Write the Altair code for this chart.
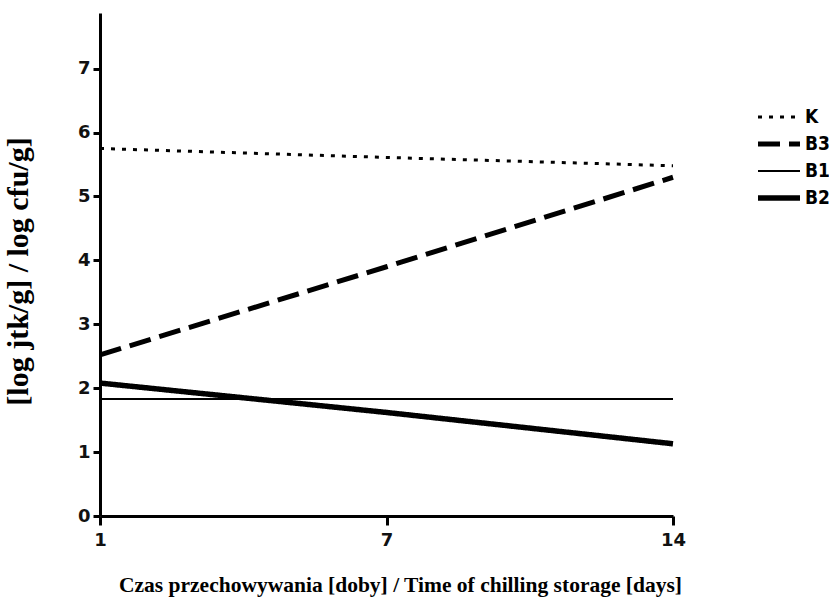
import altair as alt
import pandas as pd

days = ["1", "7", "14"]
series = ["K", "B3", "B1", "B2"]
k_vals = [5.75, 5.61, 5.48]
b3_vals = [2.52, 3.90, 5.30]
b1_vals = [1.83, 1.83, 1.83]
b2_vals = [2.08, 1.62, 1.13]
y_ticks = [0, 1, 2, 3, 4, 5, 6, 7]

rows = []
for name, vals in zip(series, [k_vals, b3_vals, b1_vals, b2_vals]):
    for d, v in zip(days, vals):
        rows.append({"day": d, "series": name, "value": v})
df = pd.DataFrame(rows)

dash_range = [[4, 7], [22, 9], [1, 0], [1, 0]]
width_range = [3, 5, 2, 5.5]

chart = alt.Chart(df).mark_line(color="black", strokeCap="butt").encode(
    x=alt.X("day:O", sort=days,
            scale=alt.Scale(type="point", padding=0),
            axis=alt.Axis(title="Czas przechowywania [doby] / Time of chilling storage [days]",
                          labelAngle=0, titleX=300, titleY=75, titleBaseline="alphabetic",
                          titleFontSize=21.5)),
    y=alt.Y("value:Q", scale=alt.Scale(domain=[0, 7.87], nice=False, zero=True),
            axis=alt.Axis(title="[log jtk/g] / log cfu/g]", values=y_ticks,
                          titleX=-82, titleY=258, titleAngle=-90, titleBaseline="middle",
                          titleFontSize=30)),
    strokeDash=alt.StrokeDash("series:N", sort=series,
                              scale=alt.Scale(domain=series, range=dash_range),
                              legend=alt.Legend(title=None)),
    strokeWidth=alt.StrokeWidth("series:N", sort=series,
                                scale=alt.Scale(type="ordinal", domain=series, range=width_range),
                                legend=alt.Legend(title=None)),
).properties(
    width=573, height=503,
    autosize=alt.AutoSizeParams(type="none"),
    padding={"left": 100, "top": 13, "right": 156, "bottom": 93},
).configure_view(stroke=None).configure_axis(
    domainColor="black", domainWidth=3, tickColor="black", tickWidth=3,
    grid=False, labelColor="#111111", labelFont="DejaVu Sans", labelFontWeight="bold",
    labelFontSize=18, titleFont="Liberation Serif",
    titleFontWeight="bold", titleColor="black",
).configure_axisX(tickSize=9, labelPadding=6).configure_axisY(tickSize=7, labelPadding=3).configure_legend(
    orient="none", legendX=655, legendY=94, symbolType="stroke",
    symbolSize=1764, symbolStrokeColor="black", labelFont="DejaVu Sans Condensed",
    labelFontWeight="bold", labelFontSize=19, labelColor="black", labelOffset=2,
    clipHeight=20, rowPadding=7,
)

chart.save("out.html", embed_options={"renderer": "svg", "actions": False})
